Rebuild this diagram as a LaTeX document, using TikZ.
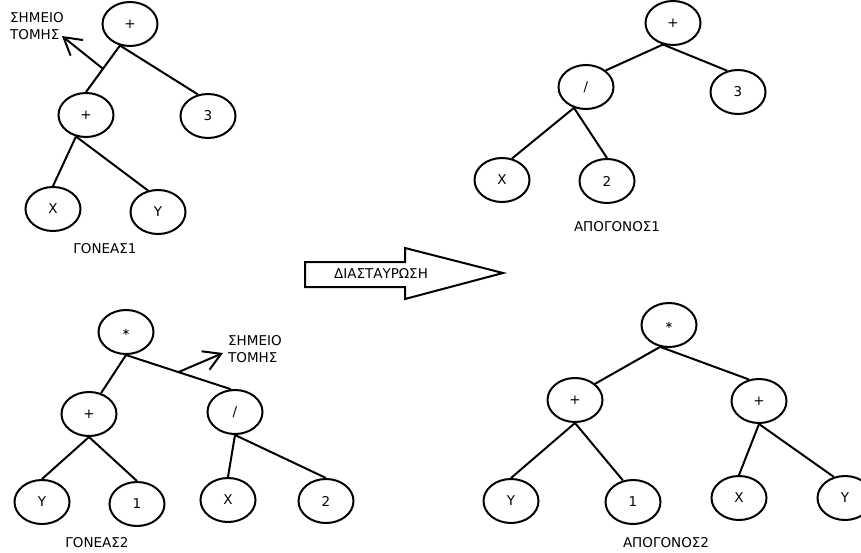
\documentclass[tikz,border=0pt]{standalone}
\usepackage{fontspec}
\setmainfont{DejaVu Sans}
\usetikzlibrary{arrows.meta, shapes.geometric}

\begin{document}
\begin{tikzpicture}[x=1pt,y=-1pt,
  tnode/.style={ellipse,draw,line width=2pt,minimum width=55pt,minimum height=44pt,
                inner sep=0pt,font=\fontsize{13.5}{16.5}\selectfont},
  lbl/.style={inner sep=0pt,font=\fontsize{13.5}{16.5}\selectfont,align=left},
  link/.style={line width=2pt},
  cutarr/.style={-{Straight Barb[length=17pt,width=20pt,line width=2pt]},line width=2pt},
  star/.style={font=\fontsize{10}{12}\selectfont}
]
\useasboundingbox (0,0) rectangle (861,552);
% parent 1
\node[tnode] (p1r) at (130,24)  {+};
\node[tnode] (p1a) at (86,115)  {+};
\node[tnode] (p1b) at (208,116) {3};
\node[tnode] (p1c) at (53,209)  {X};
\node[tnode] (p1d) at (158,212) {Y};
\node[lbl]   (p1l) at (105,249) {ΓΟΝΕΑΣ1};
\draw[link] (p1r.245) -- coordinate[pos=0.5] (cut1) (p1a.north);
\draw[link] (p1r.245) -- (p1b.115);
\draw[link] (p1a.245) -- (p1c.north);
\draw[link] (p1a.245) -- (p1d.115);
\node[lbl,anchor=west] (m1) at (10,26) {ΣΗΜΕΙΟ\\ΤΟΜΗΣ};
\coordinate (t1) at (62,36);
\draw[cutarr] (cut1) -- (t1);
% child 1
\node[tnode] (c1r) at (673,23)  {+};
\node[tnode] (c1a) at (586,87)  {/};
\node[tnode] (c1b) at (738,92)  {3};
\node[tnode] (c1c) at (502,180) {X};
\node[tnode] (c1d) at (607,181) {2};
\node[lbl]   (c1l) at (617,227) {ΑΠΟΓΟΝΟΣ1};
\draw[link] (c1r.245) -- (c1a.40);
\draw[link] (c1r.245) -- (c1b.117);
\draw[link] (c1a.240) -- (c1c.65);
\draw[link] (c1a.240) -- (c1d.north);
% crossover arrow
\draw[line width=2pt] (305,262) -- (405,262) -- (405,248) -- (503,273)
  -- (405,299) -- (405,287) -- (305,287) -- cycle;
\node[lbl] (xo) at (381,274) {ΔΙΑΣΤΑΥΡΩΣΗ};
% parent 2
\node[tnode,star] (p2r) at (126,332) {∗};
\node[tnode] (p2a) at (89,414)  {+};
\node[tnode] (p2b) at (235,412) {/};
\node[tnode] (p2c) at (42,502)  {Y};
\node[tnode] (p2d) at (137,504) {1};
\node[tnode] (p2e) at (228,500) {X};
\node[tnode] (p2f) at (326,501) {2};
\node[lbl]   (p2l) at (97,543)  {ΓΟΝΕΑΣ2};
\draw[link] (p2r.south) -- (p2a.60);
\draw[link] (p2r.south) -- coordinate[pos=0.5] (cut2) (p2b.100);
\draw[link] (p2a.south) -- (p2c.north);
\draw[link] (p2a.south) -- (p2d.north);
\draw[link] (p2b.south) -- (p2e.north);
\draw[link] (p2b.south) -- (p2f.north);
\node[lbl,anchor=west] (m2) at (228,349) {ΣΗΜΕΙΟ\\ΤΟΜΗΣ};
\coordinate (t2) at (223,353);
\draw[cutarr] (cut2) -- (t2);
% child 2
\node[tnode,star] (c2r) at (669,325) {∗};
\node[tnode] (c2a) at (575,400) {+};
\node[tnode] (c2b) at (759,401) {+};
\node[tnode] (c2c) at (511,501) {Y};
\node[tnode] (c2d) at (633,502) {1};
\node[tnode] (c2e) at (739,498) {X};
\node[tnode] (c2f) at (845,498) {Y};
\node[lbl]   (c2l) at (666,543) {ΑΠΟΓΟΝΟΣ2};
\draw[link] (c2r.248) -- (c2a.north east);
\draw[link] (c2r.248) -- (c2b.115);
\draw[link] (c2a.south) -- (c2c.north);
\draw[link] (c2a.south) -- (c2d.115);
\draw[link] (c2b.south) -- (c2e.north);
\draw[link] (c2b.south) -- (c2f.118);
\end{tikzpicture}
\end{document}
